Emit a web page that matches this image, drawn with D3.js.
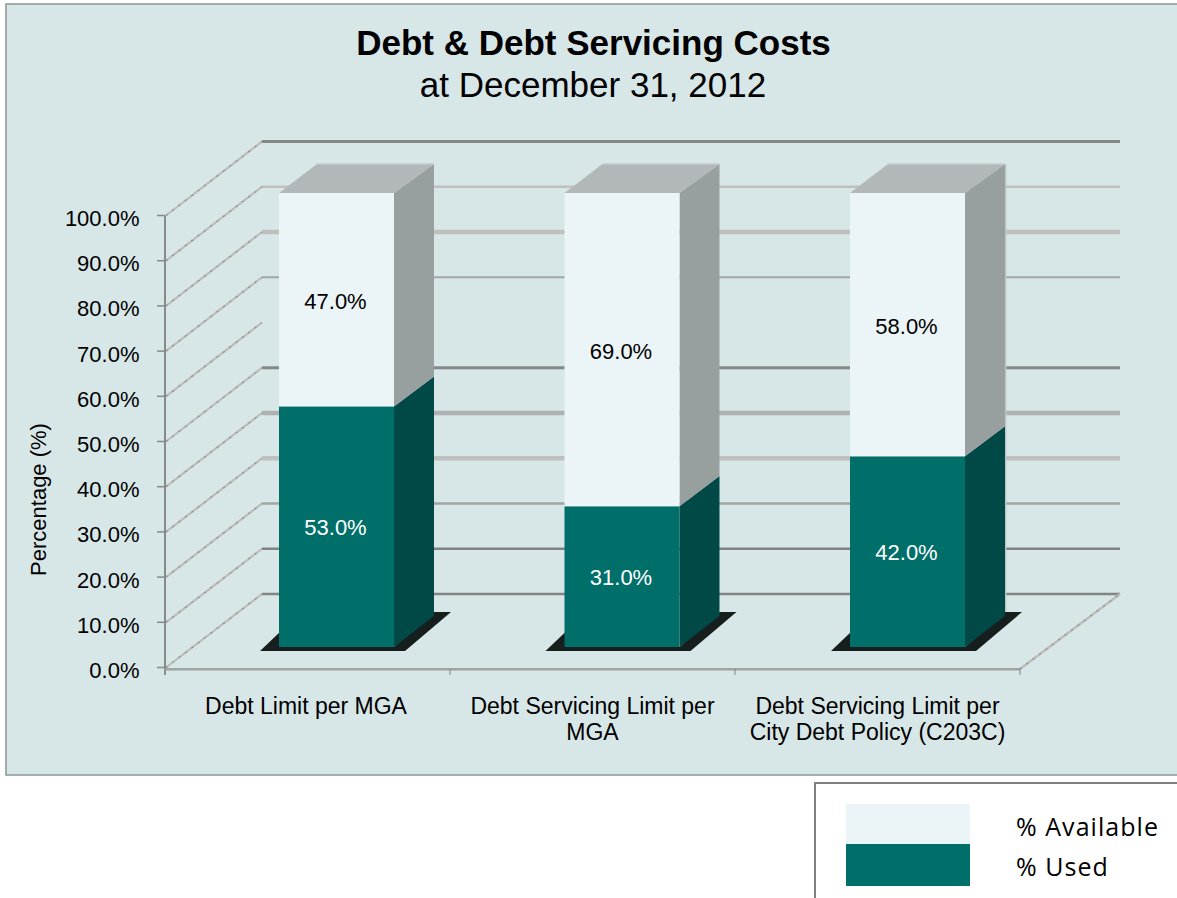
<!DOCTYPE html>
<html><head><meta charset="utf-8">
<script src="https://cdn.jsdelivr.net/npm/d3@7/dist/d3.min.js"></script>
<style>html,body{margin:0;padding:0;background:#fff}svg{display:block}</style>
</head><body><svg id="c" width="1177" height="898"></svg>
<script>
const categories = [["Debt Limit per MGA"],["Debt Servicing Limit per","MGA"],["Debt Servicing Limit per","City Debt Policy (C203C)"]];
const used = [53,31,42];
const available = [47,69,58];
const ticks = [0,10,20,30,40,50,60,70,80,90,100];
const legendLabels = ["% Available","% Used"];
const C = {used:"#006f6a",usedSide:"#004947",avail:"#ebf4f6",availSide:"#979f9f",top:"#b2b8ba",bg:"#d7e6e6"};

const svg = d3.select("#c");
const font = "Liberation Sans, Arial, sans-serif";
svg.append("rect").attr("x",6).attr("y",4).attr("width",1180).attr("height",771).attr("fill",C.bg).attr("stroke","#929a9a").attr("stroke-width",1.6);

const yFront = d3.scaleLinear().domain([0,100]).range([667.5,215.5]);
const yBack = d3.scaleLinear().domain([0,100]).range([594,141.5]);
const yBar = d3.scaleLinear().domain([0,100]).range([647,193]);
const yBarBack = d3.scaleLinear().domain([0,100]).range([616,164]);
const x = d3.scaleBand().domain(d3.range(3)).range([165,1020]);
const xBar = d3.scaleBand().domain(d3.range(3)).range([165.5,1022]);
const barW = 115, barDX = 40;
const barX = i => xBar(i) + 113.5;

// gridlines on the back wall and wall diagonals (the 60% line does not show in the source)
const g = svg.append("g");
const gridColor = {0:"#828585",10:"#808383",20:"#a2a5a5",30:"#bfc0c0",40:"#afb2b2",50:"#858888",70:"#a3a6a6",80:"#bfc0c0",90:"#bfc0c0",100:"#858888"};
const gridWidth = {0:2.6,10:2.6,20:2.6,30:4.5,40:4.5,50:2.8,70:1.8,80:4.6,90:2.6,100:2.8};
g.selectAll("line.h").data(ticks.filter(d=>d!==60)).join("line")
 .attr("x1",262).attr("x2",1120).attr("y1",d=>yBack(d)).attr("y2",d=>yBack(d))
 .attr("stroke",d=>gridColor[d]).attr("stroke-width",d=>gridWidth[d]);
const diag = (sel)=>{
  sel.clone().attr("stroke","#bdbbbb").attr("stroke-width",2.2);
  sel.attr("stroke","#8f9090").attr("stroke-width",1.2).attr("stroke-dasharray","2 6").raise();
};
ticks.forEach(d=>{
  diag(g.append("line").attr("x1",166).attr("x2",262).attr("y1",yFront(d)).attr("y2",yBack(d)));
});
// right floor diagonal
diag(g.append("line").attr("x1",1020).attr("y1",669).attr("x2",1120).attr("y2",yBack(0)));

// axes
const ax = svg.append("g");
ax.append("line").attr("x1",165).attr("x2",165).attr("y1",yFront(100)).attr("y2",675).attr("stroke","#868a8a").attr("stroke-width",2);
ax.append("line").attr("x1",165).attr("x2",1020).attr("y1",669.3).attr("y2",669.3).attr("stroke","#a0a3a3").attr("stroke-width",2.6);
ax.selectAll("line.t").data(ticks).join("line").attr("x1",157).attr("x2",165).attr("y1",d=>yFront(d)).attr("y2",d=>yFront(d)).attr("stroke","#868a8a").attr("stroke-width",1.5);
ax.selectAll("line.c").data([0,1,2,3]).join("line").attr("x1",i=>165+i*x.bandwidth()).attr("x2",i=>165+i*x.bandwidth()).attr("y1",669).attr("y2",675).attr("stroke","#8f9292").attr("stroke-width",1.2);
ax.selectAll("text.t").data(ticks).join("text").attr("x",139.5).attr("y",d=>yFront(d)+10.5).attr("text-anchor","end")
 .attr("font-family",font).attr("font-size",22).text(d=>d.toFixed(1)+"%");

// bars
const bars = svg.selectAll("g.bar").data(d3.range(3)).join("g");
bars.each(function(i){
  const s = d3.select(this), X = barX(i), R = X+barW, B = R+barDX;
  const y0 = yBar(0), ym = yBar(used[i]), yt = yBar(100);
  const by0 = yBarBack(0), bym = yBarBack(used[i]), byt = yBarBack(100);
  // floor shadow
  s.append("polygon").attr("points",[[X-19,651],[X+2,631],[X+2,651]].join(" ")).attr("fill","#161e1e");
  s.append("polygon").attr("points",[[X,647],[R,647],[B,612],[B+17,612],[R+11,651],[X,651]].join(" ")).attr("fill","#161e1e");
  // sides
  s.append("polygon").attr("points",[[R,y0],[B,by0],[B,bym],[R,ym]].join(" ")).attr("fill",C.usedSide);
  s.append("polygon").attr("points",[[R,ym],[B,bym],[B,byt],[R,yt]].join(" ")).attr("fill",C.availSide);
  s.append("polygon").attr("points",[[X,yt],[R,yt],[B,byt],[X+38,byt]].join(" ")).attr("fill",C.top);
  s.append("line").attr("x1",X+38).attr("x2",B).attr("y1",byt).attr("y2",byt).attr("stroke","#c6cacb").attr("stroke-width",1.5);
  if (i===2) s.append("line").attr("x1",B+0.7).attr("x2",B+0.7).attr("y1",byt).attr("y2",612).attr("stroke","#bcc8c8").attr("stroke-width",1.4);
  s.append("rect").attr("x",X).attr("y",ym).attr("width",barW).attr("height",y0-ym).attr("fill",C.used);
  s.append("rect").attr("x",X).attr("y",yt).attr("width",barW).attr("height",ym-yt).attr("fill",C.avail);
  s.append("text").attr("x",X+barW/2-1).attr("y",(y0+ym)/2+8).attr("text-anchor","middle").attr("fill","#fff").attr("font-family",font).attr("font-size",22).text(used[i].toFixed(1)+"%");
  s.append("text").attr("x",X+barW/2-1).attr("y",(yt+ym)/2+9.5).attr("text-anchor","middle").attr("fill","#000").attr("font-family",font).attr("font-size",22).text(available[i].toFixed(1)+"%");
});

// category labels
categories.forEach((lines,i)=>{
  lines.forEach((t,j)=>{
    svg.append("text").attr("x",x(i)+x.bandwidth()/2+(i==0?-1.5:0)).attr("y",714+j*26).attr("text-anchor","middle").attr("font-family",font).attr("font-size",23).attr("fill","#000").text(t);
  });
});

// titles
svg.append("text").attr("x",593.5).attr("y",55).attr("text-anchor","middle").attr("font-family",font).attr("font-size",35).attr("font-weight","bold").text("Debt & Debt Servicing Costs");
svg.append("text").attr("x",593).attr("y",97).attr("text-anchor","middle").attr("font-family",font).attr("font-size",35).text("at December 31, 2012");
svg.append("text").attr("transform","translate(46,499.5) rotate(-90)").attr("text-anchor","middle").attr("font-family",font).attr("font-size",22).text("Percentage (%)");

// legend
const lg = svg.append("g");
lg.append("rect").attr("x",815).attr("y",783).attr("width",380).attr("height",130).attr("fill","#fff").attr("stroke","#7f7f7f").attr("stroke-width",2);
lg.selectAll("rect.s").data(legendLabels).join("rect").attr("x",846).attr("y",(d,i)=>[804,844][i]).attr("width",124).attr("height",(d,i)=>[40,42][i]).attr("fill",(d,i)=>[C.avail,C.used][i]);
lg.selectAll("text").data(legendLabels).join("text").attr("x",1016).attr("y",(d,i)=>[836,876][i]).attr("font-family","'Open Sans',sans-serif").attr("font-size",25).attr("letter-spacing",1.05).text(d=>d);
</script></body></html>
